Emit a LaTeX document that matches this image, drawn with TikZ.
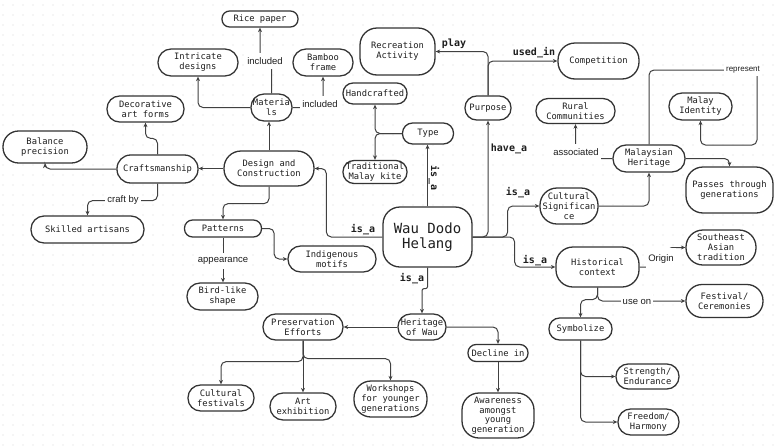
\documentclass[tikz,border=0pt]{standalone}
\usepackage{fontspec}
\usetikzlibrary{arrows.meta}
\newfontfamily\monof{DejaVu Sans Mono}
\newfontfamily\sansf{Liberation Sans}
\definecolor{boxc}{HTML}{333333}
\definecolor{txtc}{HTML}{1E1E1E}
\definecolor{linec}{HTML}{404040}
\definecolor{dotc}{HTML}{D6D6D6}
\tikzset{
  box/.style={draw=boxc, line width=1.3pt, fill=white, align=center, text=txtc,
    font=\monof\fontsize{8.8}{10}\selectfont, inner xsep=1pt, inner ysep=1pt},
  conn/.style={draw=linec, line width=1pt, rounded corners=5pt,
    -{Stealth[length=4.5pt,width=4pt]}},
  slbl/.style={fill=white, inner xsep=2pt, inner ysep=1pt, minimum height=16pt,
    text=txtc, font=\sansf\fontsize{9.5}{10}\selectfont},
  mlbl/.style={inner sep=1pt, text=txtc, font=\monof\bfseries\fontsize{10}{11}\selectfont}
}
\newcommand\mknode[6]{%
  \pgfmathsetmacro\rrad{min(17,#5/2-0.4)}%
  \node[box, minimum width=#4pt, minimum height=#5pt, rounded corners=\rrad pt] (#1) at (#2,#3) {#6};}
\begin{document}
\begin{tikzpicture}[x=1pt,y=-1pt]
\useasboundingbox (0,0) rectangle (780,445);
\fill[white] (0,0) rectangle (780,445);
\foreach \yy in {5,15,...,445}
  \draw[dotc, line width=1.3pt, line cap=round, dash pattern=on 0pt off 10pt] (3,\yy) -- (780,\yy);

% nodes
\mknode{rice}{260}{19}{76}{16}{Rice paper}
\mknode{intr}{198}{62.5}{80}{27}{Intricate\\designs}
\mknode{bamb}{323}{62.5}{60}{27}{Bamboo\\frame}
\mknode{mat}{271.5}{107.5}{41}{27}{Materia\\ls}
\mknode{hand}{375}{93.5}{64}{21}{Handcrafted}
\mknode{rec}{397.5}{51.5}{75}{47}{Recreation\\Activity}
\mknode{purp}{488}{108}{46}{24}{Purpose}
\mknode{comp}{598.5}{61}{81}{36}{Competition}
\mknode{rural}{575.5}{111}{79}{25}{Rural\\Communities}
\mknode{malid}{700.5}{106.5}{63}{27}{Malay\\Identity}
\mknode{type}{428}{133.5}{51}{21}{Type}
\mknode{trad}{375}{172}{64}{23}{Traditional\\Malay kite}
\mknode{mh}{649}{158.5}{72}{27}{Malaysian\\Heritage}
\mknode{pass}{729.5}{190}{87}{46}{Passes through\\generations}
\mknode{deco}{145.5}{109}{77}{26}{Decorative\\art forms}
\mknode{bal}{45}{147}{84}{32}{Balance\\precision}
\mknode{craft}{157.5}{169}{81}{28}{Craftsmanship}
\mknode{dc}{269}{168.5}{90}{35}{Design and\\Construction}
\mknode{skill}{87.5}{229.5}{113}{27}{Skilled artisans}
\mknode{patt}{223}{228.5}{77}{17}{Patterns}
\mknode{indig}{332}{259}{88}{26}{Indigenous\\motifs}
\mknode{bird}{222.5}{296.5}{71}{27}{Bird-like\\shape}
\node[box, minimum width=89pt, minimum height=60pt, rounded corners=17pt,
  font=\monof\fontsize{14}{15.5}\selectfont] (wdh) at (427.5,237) {Wau Dodo\\Helang};
\mknode{cs}{569}{206}{58}{36}{Cultural\\Significan\\ce}
\mknode{hc}{597.5}{267}{83}{40}{Historical\\context}
\mknode{sea}{721}{247.5}{70}{35}{Southeast\\Asian\\tradition}
\mknode{fest}{724.5}{301}{77}{33}{Festival/\\Ceremonies}
\mknode{sym}{580.5}{329}{63}{22}{Symbolize}
\mknode{str}{647.5}{376.5}{63}{25}{Strength/\\Endurance}
\mknode{free}{648.5}{422}{61}{26}{Freedom/\\Harmony}
\mknode{how}{422}{327}{48}{26}{Heritage\\of Wau}
\mknode{pe}{303}{327}{80}{26}{Preservation\\Efforts}
\mknode{dec}{498}{353}{60}{17}{Decline in}
\node[box, minimum width=72pt, minimum height=45pt, rounded corners=17pt,
  font=\monof\fontsize{8.8}{9.5}\selectfont, inner ysep=0.5pt] (aware) at (498,415.5) {Awareness\\amongst\\young\\generation};
\mknode{cf}{221}{398}{66}{26}{Cultural\\festivals}
\mknode{art}{303}{406.5}{66}{27}{Art\\exhibition}
\mknode{work}{390.5}{399}{73}{36}{Workshops\\for younger\\generations}

% connectors
\draw[conn] (mat.north) -- ++(0,-32) -| (rice.south);
\draw[conn] (mat.west) -| (intr.south);
\draw[conn] (mat.east) -| (bamb.south);
\draw[conn] (dc.north) -- (dc.north |- mat.south);
\draw[conn] (dc.west) -- (dc.west -| craft.east);
\draw[conn] (craft.north) -- ++(0,-16) -| (deco.south);
\draw[conn] (craft.west) -| (bal.south);
\draw[conn] (craft.south) -- ++(0,17) -| (skill.north);
\draw[conn] (dc.south) -- ++(0,17) -| (patt.north);
\draw[conn] (patt.south) -- (patt.south |- bird.north);
\draw[conn] (patt.east) -- ++(12,0) |- (indig.west);
\draw[conn] (wdh.west) -- ++(-56,0) |- (dc.east);
\draw[conn] (wdh.north) -- (wdh.north |- type.south);
\draw[conn] (type.west) -| (hand.south);
\draw[conn] (type.west) -| (trad.north);
\draw[conn] (wdh.east) -| (purp.south);
\draw[conn] (purp.north) |- (rec.east);
\draw[conn] (purp.north) |- (comp.west);
\draw[conn] (wdh.east) -- ++(35,0) |- (cs.west);
\draw[conn] (wdh.east) -- ++(42,0) |- (hc.west);
\draw[conn] (cs.east) -| (mh.south);
\draw[conn] (mh.west) -| (rural.south);
\draw[conn] (mh.north) |- (757,70) -- (757,145) -| (malid.south);
\draw[conn] (mh.east) -| (pass.north);
\draw[conn] (hc.east) -- (667,267) |- (sea.west);
\draw[conn] (hc.south) |- (fest.west);
\draw[conn] (hc.south) -- ++(0,12) -| (sym.north);
\draw[conn] (sym.south) |- (str.west);
\draw[conn] (sym.south) |- (free.west);
\draw[conn, rounded corners=2pt] (wdh.south) -- ++(0,21) -| (how.north);
\draw[conn] (how.west) -- (pe.east);
\draw[conn] (how.east) -| (dec.north);
\draw[conn] (dec.south) -- (aware.north);
\draw[conn] (pe.south) -- ++(0,21) -| (cf.north);
\draw[conn] (pe.south) -- (art.north);
\draw[conn] (pe.south) -- ++(0,18) -| (work.north);

% labels
\node[slbl] (lb1) at (265,61) {included};
\node[slbl] (lb2) at (320,104) {included};
\node[slbl] (lb3) at (123,200) {craft by};
\node[slbl] (lb4) at (223,261) {appearance};
\node[mlbl] (lb5) at (363,230) {is\_a};
\node[mlbl, rotate=-90] (lb6) at (434,178) {is\_a};
\node[mlbl] (lb7) at (509,149) {have\_a};
\node[mlbl] (lb8) at (454,44) {play};
\node[mlbl] (lb9) at (534,53) {used\_in};
\node[mlbl] (lb10) at (518,193) {is\_a};
\node[mlbl] (lb11) at (535,261) {is\_a};
\node[slbl] (lb12) at (576,152) {associated};
\node[slbl, minimum height=12pt, font=\sansf\fontsize{8}{9}\selectfont] (lb13) at (743,70) {represent};
\node[slbl, minimum height=22pt] (lb14) at (661,259) {Origin};
\node[slbl] (lb15) at (637,302) {use on};
\node[mlbl] (lb16) at (412,279) {is\_a};
\end{tikzpicture}
\end{document}
